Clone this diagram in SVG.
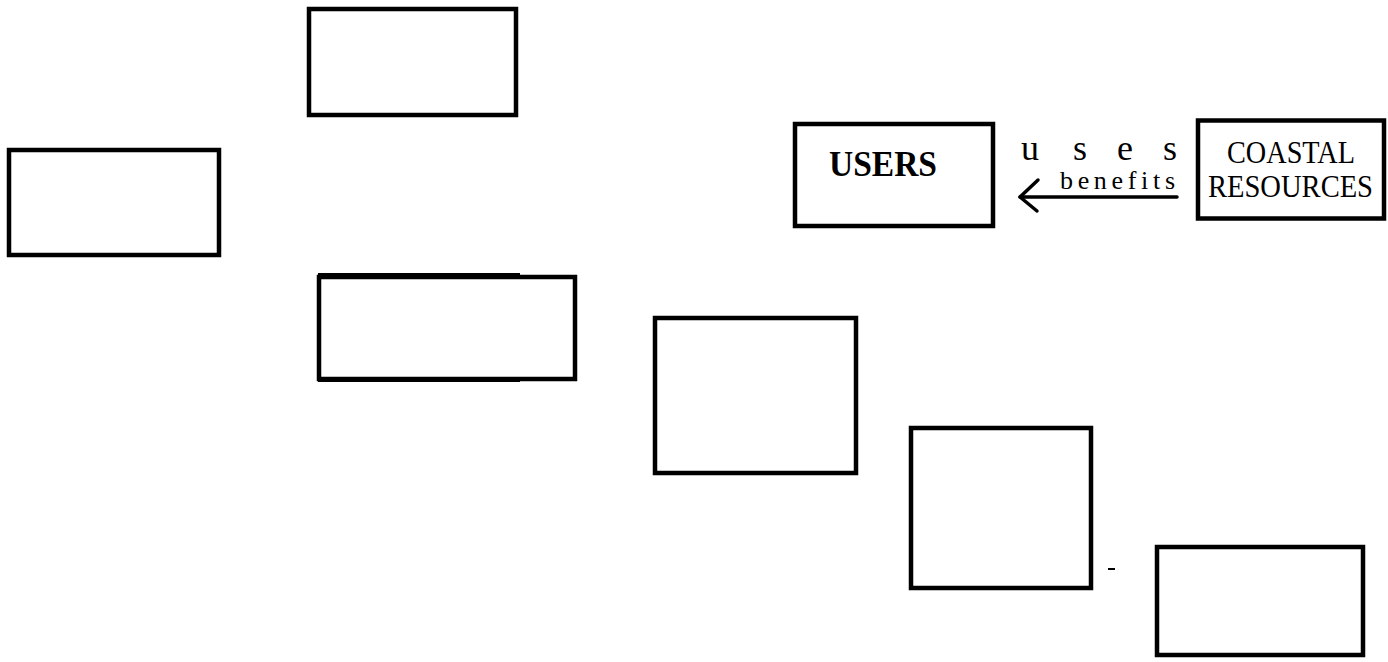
<svg xmlns="http://www.w3.org/2000/svg" width="1388" height="662" viewBox="0 0 1388 662">
<style>
.box{fill:none;stroke:#000;stroke-width:4.5}
.lbl{font-family:"Liberation Serif","Times New Roman",serif;fill:#000}
.conn{fill:none;stroke:#000;stroke-linecap:round;stroke-linejoin:round}
</style>
<rect width="1388" height="662" fill="#fff"/>
<g id="node-top"><rect class="box" x="309" y="9" width="207" height="106"/></g>
<g id="node-left"><rect class="box" x="9" y="150" width="210" height="105"/></g>
<g id="node-mid1">
<rect class="box" x="319" y="277" width="256" height="102"/>
<line x1="318" y1="274" x2="520" y2="274" stroke="#000" stroke-width="2"/>
<line x1="318" y1="381" x2="520" y2="381" stroke="#000" stroke-width="2"/>
</g>
<g id="node-mid2"><rect class="box" x="655" y="318" width="201" height="155"/></g>
<g id="node-mid3"><rect class="box" x="911" y="428" width="180" height="160"/></g>
<g id="node-bottom"><rect class="box" x="1157" y="547" width="206" height="108"/></g>
<g id="node-users">
<rect class="box" x="795" y="124" width="198" height="102" stroke-width="4"/>
<text class="lbl" x="829" y="176" font-size="35" font-weight="bold" textLength="108" lengthAdjust="spacingAndGlyphs">USERS</text>
</g>
<g id="node-coastal">
<rect class="box" x="1198" y="120.5" width="186" height="98" stroke-width="5"/>
<text class="lbl" x="1227" y="163" font-size="32" textLength="128" lengthAdjust="spacingAndGlyphs">COASTAL</text>
<text class="lbl" x="1208" y="197" font-size="32" textLength="165" lengthAdjust="spacingAndGlyphs">RESOURCES</text>
</g>
<g id="connectors">
<line class="conn" x1="1020" y1="197" x2="1177" y2="197" stroke-width="3.5" stroke-linecap="butt"/>
<path class="conn" d="M1038,180 L1020,197 L1037,211" stroke-width="3.5"/>
<text class="lbl" y="160" font-size="36"><tspan x="1021">u</tspan><tspan x="1073">s</tspan><tspan x="1117">e</tspan><tspan x="1163">s</tspan></text>
<text class="lbl" x="1060" y="189" font-size="26" textLength="115" lengthAdjust="spacing">benefits</text>
</g>
<line x1="1108" y1="569" x2="1115" y2="569" stroke="#000" stroke-width="2"/>
</svg>
